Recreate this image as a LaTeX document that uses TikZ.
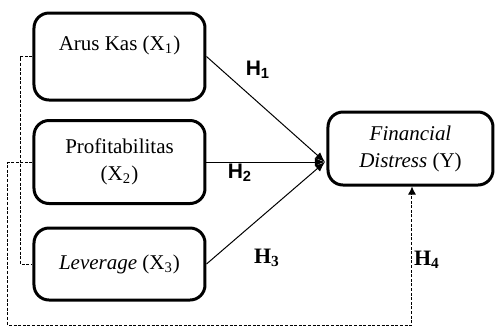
\documentclass[tikz,border=0pt]{standalone}
\usepackage{fontspec}
\setmainfont{Liberation Serif}
\newfontfamily\hsans{Liberation Sans}
\usetikzlibrary{arrows.meta}

\begin{document}
\begin{tikzpicture}[x=0.5pt,y=-0.5pt]
	\tikzset{BoxStyle/.style =
		{draw,
			rounded corners = 7.5pt,
			line width = 1.5pt,
			align = center,
			inner sep = 0pt,
			font = \fontsize{10.5}{13.5}\selectfont},
		HypStyle/.style = {font = \bfseries\fontsize{11}{12}\selectfont},
		HypSans/.style = {font = \hsans\bfseries\fontsize{10.5}{12}\selectfont},
		PathStyle/.style = {line width = 0.5pt, -{Latex[length=5pt,width=4pt]}},
		DashStyle/.style = {line width = 0.5pt, dash pattern = on 1.5pt off 0.8pt}}
	\useasboundingbox (0,0) rectangle (495,329);
	% variables
	\node[BoxStyle, minimum width=85.5pt, minimum height=43.5pt] (X1) at (119.5,56.5)
		{Arus Kas (X\textsubscript{1})\\ \mbox{}};
	\node[BoxStyle, minimum width=85.5pt, minimum height=41.5pt] (X2) at (119.5,162)
		{Profitabilitas\\(X\textsubscript{2})};
	\node[BoxStyle, minimum width=85.5pt, minimum height=36pt] (X3) at (119.5,264)
		{\textit{Leverage} (X\textsubscript{3})};
	\node[BoxStyle, minimum width=82.5pt, minimum height=36.5pt] (Y) at (410.5,148.5)
		{\textit{Financial}\\\textit{Distress} (Y)};
	\coordinate (tip) at (325,162);
	\coordinate (corner) at (8,325);
	\coordinate (foot) at (412,325);
	% paths
	\draw[PathStyle] (X1.east) -- (tip);
	\draw[PathStyle] (X2.east) -- (tip);
	\draw[PathStyle] (X3.east) -- (tip);
	\draw[DashStyle] (X1.west) -- ++(-12,0) |- (X3.west);
	\draw[DashStyle, -{Latex[length=4pt,width=4pt]}] (X2.west) -| (corner) -- (foot) -- (foot |- Y.south);
	% hypotheses
	\node[HypSans] (h1) at (258,70) {H\textsubscript{1}};
	\node[HypSans] (h2) at (240,173) {H\textsubscript{2}};
	\node[HypStyle] (h3) at (267,258) {H\textsubscript{3}};
	\node[HypStyle] (h4) at (427,260) {H\textsubscript{4}};
\end{tikzpicture}
\end{document}
